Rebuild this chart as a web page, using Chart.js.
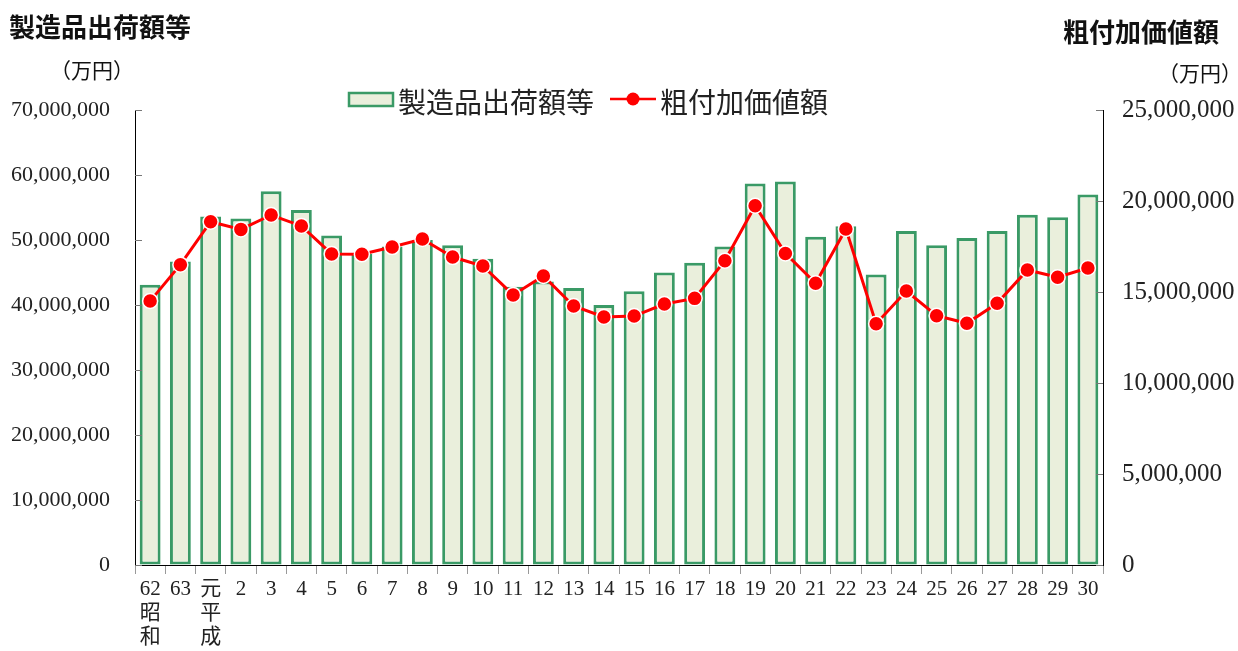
<!DOCTYPE html>
<html>
<head>
<meta charset="utf-8">
<script src="https://cdn.jsdelivr.net/npm/chart.js@4"></script>
<style>
  html, body { margin: 0; padding: 0; background: #fff; }
  #wrap { width: 1238px; height: 651px; position: relative; }
</style>
</head>
<body>
<div id="wrap"><canvas id="chart"></canvas></div>
<script>
// 年（昭和62年〜平成30年）
var categories = [['62', '昭', '和'], '63', ['元', '平', '成'], '2', '3', '4', '5', '6', '7', '8', '9', '10',
  '11', '12', '13', '14', '15', '16', '17', '18', '19', '20', '21', '22', '23', '24', '25', '26', '27', '28', '29', '30'];

// 製造品出荷額等（万円）
var shipments = [43100000, 46700000, 53600000, 53300000, 57500000, 54600000, 50700000, 47900000, 49000000, 50000000,
  49200000, 47100000, 42800000, 43600000, 42600000, 40000000, 42100000, 45000000, 46500000, 49000000,
  58700000, 59000000, 50500000, 52100000, 44700000, 51400000, 49200000, 50300000, 51400000, 53900000,
  53500000, 57000000];

// 粗付加価値額（万円）
var valueAdded = [14500000, 16500000, 18860000, 18440000, 19230000, 18630000, 17090000, 17070000, 17470000, 17910000,
  16920000, 16430000, 14840000, 15880000, 14230000, 13630000, 13680000, 14340000, 14650000, 16720000,
  19740000, 17120000, 15480000, 18460000, 13260000, 15050000, 13700000, 13280000, 14380000, 16210000,
  15810000, 16320000];

var leftTicksMax = 70000000;
var rightTicksMax = 25000000;

var serif = "'Liberation Serif', 'Noto Sans CJK JP', serif";
var gothic = "'Noto Sans CJK JP', sans-serif";

// タイトル・単位・凡例を描く
var decorPlugin = {
  id: 'decor',
  afterDraw: function(chart) {
    var ctx = chart.ctx;
    ctx.save();
    ctx.fillStyle = '#111';
    ctx.textBaseline = 'middle';

    ctx.font = 'bold 26px ' + gothic;
    ctx.textAlign = 'left';
    ctx.fillText('製造品出荷額等', 9, 27);
    ctx.textAlign = 'right';
    ctx.fillText('粗付加価値額', 1219, 32);

    ctx.font = '21px ' + serif;
    ctx.textAlign = 'left';
    ctx.fillText('（万円）', 50, 72);
    ctx.fillText('（万円）', 1158, 75);

    // 軸の内向き目盛り
    ctx.strokeStyle = '#777';
    ctx.lineWidth = 1;
    var y = chart.scales.y, y1 = chart.scales.y1;
    y.ticks.forEach(function(t) {
      var py = Math.round(y.getPixelForValue(t.value)) + 0.5;
      ctx.beginPath(); ctx.moveTo(y.right, py); ctx.lineTo(y.right + 7, py); ctx.stroke();
    });
    y1.ticks.forEach(function(t) {
      var py = Math.round(y1.getPixelForValue(t.value)) + 0.5;
      ctx.beginPath(); ctx.moveTo(y1.left - 7, py); ctx.lineTo(y1.left, py); ctx.stroke();
    });

    // 凡例
    var barDs = chart.data.datasets[0], lineDs = chart.data.datasets[1];
    ctx.fillStyle = barDs.backgroundColor;
    ctx.fillRect(349, 93, 44, 13);
    ctx.strokeStyle = barDs.borderColor;
    ctx.lineWidth = 2.5;
    ctx.strokeRect(349, 93, 44, 13);
    ctx.fillStyle = '#222';
    ctx.font = '28px ' + gothic;
    ctx.textAlign = 'left';
    ctx.fillText(barDs.label, 398, 102);

    ctx.strokeStyle = lineDs.borderColor;
    ctx.lineWidth = 2.5;
    ctx.beginPath(); ctx.moveTo(610, 99); ctx.lineTo(656, 99); ctx.stroke();
    ctx.fillStyle = lineDs.pointBackgroundColor;
    ctx.beginPath(); ctx.arc(633, 99, 6.5, 0, Math.PI * 2); ctx.fill();
    ctx.fillStyle = '#222';
    ctx.fillText(lineDs.label, 660, 102);
    ctx.restore();
  }
};

new Chart(document.getElementById('chart'), {
  type: 'bar',
  data: {
    labels: categories,
    datasets: [
      {
        type: 'bar',
        label: '製造品出荷額等',
        data: shipments,
        yAxisID: 'y',
        backgroundColor: '#eaefdc',
        borderColor: '#3a9a66',
        borderWidth: 3,
        borderSkipped: false,
        barPercentage: 0.69,
        categoryPercentage: 1.0,
        order: 2
      },
      {
        type: 'line',
        label: '粗付加価値額',
        data: valueAdded,
        yAxisID: 'y1',
        borderColor: '#ff0000',
        borderWidth: 3,
        pointBackgroundColor: '#ff0000',
        pointBorderColor: '#ffffff',
        pointBorderWidth: 1.5,
        pointRadius: 7.5,
        tension: 0,
        order: 1
      }
    ]
  },
  options: {
    responsive: true,
    maintainAspectRatio: false,
    animation: false,
    layout: { padding: { top: 110, bottom: 0, left: 0, right: 0 } },
    plugins: {
      legend: { display: false },
      tooltip: { enabled: false }
    },
    scales: {
      x: {
        offset: true,
        grid: { offset: true, drawOnChartArea: false, tickLength: 9, color: '#999' },
        border: { color: '#000', width: 1 },
        ticks: {
          autoSkip: false, maxRotation: 0, padding: 3, color: '#222',
          font: { family: serif, size: 21, lineHeight: 1.15 }
        },
        afterFit: function(scale) { scale.height = 86; }
      },
      y: {
        position: 'left',
        min: 0,
        max: leftTicksMax,
        grid: { drawOnChartArea: false, drawTicks: false },
        border: { color: '#000', width: 1 },
        ticks: {
          stepSize: 10000000, padding: 25, color: '#222',
          font: { family: serif, size: 22 },
          callback: function(v) { return v.toLocaleString('en-US'); }
        },
        afterFit: function(scale) { scale.width = 135; }
      },
      y1: {
        position: 'right',
        min: 0,
        max: rightTicksMax,
        grid: { drawOnChartArea: false, drawTicks: false },
        border: { color: '#000', width: 1 },
        ticks: {
          stepSize: 5000000, padding: 19, color: '#222',
          font: { family: serif, size: 25 },
          callback: function(v) { return v.toLocaleString('en-US'); }
        },
        afterFit: function(scale) { scale.width = 135; }
      }
    }
  },
  plugins: [decorPlugin]
});
</script>
</body>
</html>
